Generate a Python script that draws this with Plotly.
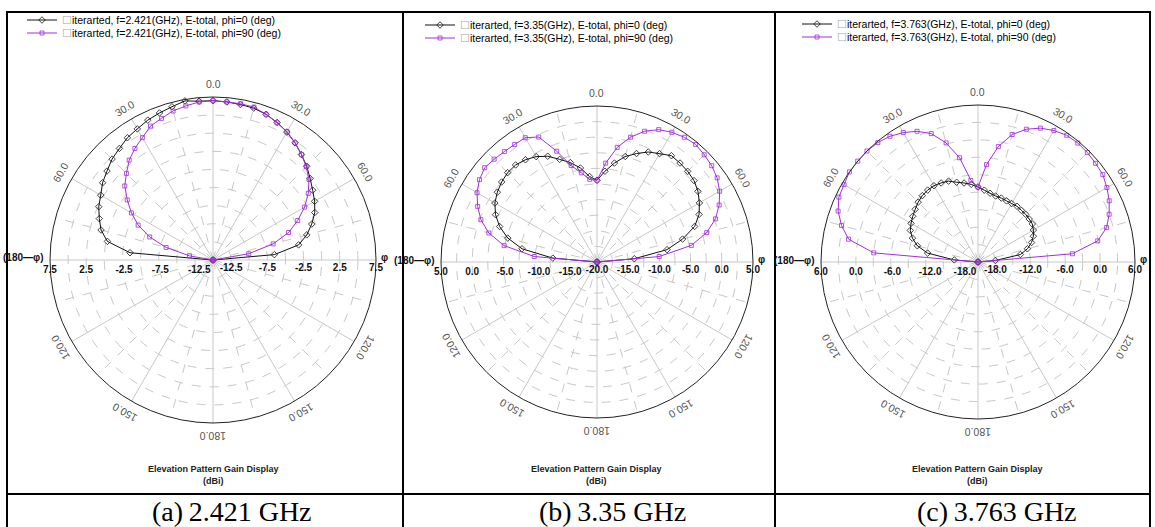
import math
import plotly.graph_objects as go

# ---------------- data ----------------
theta_deg = list(range(-90, 95, 5))

# (a) 2.421 GHz, radial range [-15, 7.5] dBi
a_phi0 = [-15, -3.5, -0.2, 1.0, 1.7, 2.4, 2.9, 3.6, 4.1, 4.7, 5.1, 5.6, 5.9, 6.3, 6.6, 6.9, 7.3, 7.0,
          7.0, 6.9, 6.8, 6.7, 6.4, 5.95, 5.4, 4.75, 4.0, 3.3, 2.5, 1.8, 1.2, 0.5, -0.5, -1.6, -3.0, -6.5, -15]
a_phi90 = [-15, -15, -11.7, -8.3, -5.7, -3.6, -2.0, -0.55, 0.9, 1.9, 3.0, 3.8, 4.5, 5.4, 5.8, 6.3, 6.6, 6.9,
           7.0, 6.9, 6.9, 6.85, 6.4, 5.9, 5.45, 4.75, 4.0, 3.2, 2.3, 1.05, -0.4, -2.1, -3.9, -6.4, -10.0, -15, -15]

# (b) 3.35 GHz, radial range [-20, 5] dBi
b_phi0 = [-20, -12.9, -7.8, -5.2, -3.4, -2.05, -1.1, -0.5, -0.05, 0.25, 0.3, 0.0, -0.5, -1.3, -2.5, -3.5, -4.7, -6.25,
          -6.9, -5.4, -3.9, -2.5, -1.5, -0.55, 0.05, 0.8, 0.7, 0.55, 0.3, -0.25, -1.05, -1.95, -3.35, -5.8, -8.6, -14.0, -20]
b_phi90 = [-20, -9.9, -4.9, -2.05, -0.2, 1.1, 2.2, 3.0, 3.5, 3.3, 3.1, 3.0, 3.0, 2.1, -1.1, -4.0, -5.5, -6.7,
           -6.9, -4.1, -1.35, 0.7, 2.3, 3.4, 4.0, 4.4, 4.6, 4.3, 4.0, 3.5, 2.7, 1.6, 0.2, -1.8, -4.65, -10.0, -20]

# (c) 3.763 GHz, radial range [-21, 6] dBi
c_phi0 = [-21, -16.9, -12.2, -10.2, -9.0, -8.15, -7.7, -7.3, -6.9, -6.45, -6.1, -5.9, -5.85, -6.0, -6.2, -6.8, -7.2, -7.6,
          -8.1, -8.6, -9.0, -9.25, -9.3, -9.4, -9.4, -9.3, -9.4, -9.4, -9.5, -9.6, -10.0, -10.5, -11.2, -12.2, -13.6, -18.0, -21]
c_phi90 = [-21, -3.0, 1.6, 3.3, 4.6, 5.4, 5.6, 6.0, 6.0, 6.0, 5.8, 5.4, 4.7, 3.8, 2.5, 0.2, -2.8, -6.9,
           -8.1, -4.2, -0.85, 1.7, 3.3, 4.4, 5.1, 5.6, 5.7, 5.6, 5.4, 5.2, 4.6, 3.9, 3.0, 1.9, -0.1, -4.7, -21]

freqs = ["2.421", "3.35", "3.763"]
captions = ["(a)\u20092.421 GHz", "(b)\u20093.35 GHz", "(c)\u20093.763 GHz"]
radial_ranges = [[-15, 7.5], [-20, 5], [-21, 6]]
ring_steps = [2.5, 2.5, 3.0]
label_steps = [5.0, 5.0, 6.0]
angle_label_vals = [0, 30, 60, 120, 150, 180, 210, 240, 300, 330]
angle_label_text = ["0.0", "30.0", "60.0", "120.0", "150.0", "180.0", "150.0", "120.0", "60.0", "30.0"]
phi_right = "\u03c6"
phi_left = "(180\u2014\u03c6)"

# ---------------- layout geometry (pixels) ----------------
W, H = 1155, 527
centers = [(213, 260), (597, 262), (978, 262)]
radii = [163, 156, 157]
left_label_shift = 7
legend_rows = [[(22, 20), (22, 33)], [(420, 25), (420, 38)], [(797, 24), (797, 37)]]
caption_x = [232, 612, 997]

def xp(px):
    return px / W

def yp(py):
    return 1 - py / H

FONT = "Liberation Sans, Arial"
BLACK = "#111111"
PURPLE = "#a030d8"
GRID = "#c8c8c8"

series = [(a_phi0, a_phi90), (b_phi0, b_phi90), (c_phi0, c_phi90)]

fig = go.Figure()
layout = dict(width=W, height=H, margin=dict(l=0, r=0, t=0, b=0),
              paper_bgcolor="white", plot_bgcolor="white", showlegend=True)
annotations = []
shapes = []
box = '<span style="color:#a8a8a8">\u2610</span>'

def pname(k):
    return "polar" if k == 1 else f"polar{k}"

for i in range(3):
    lo, hi = radial_ranges[i]
    step = ring_steps[i]
    lstep = label_steps[i]
    n = int(round((hi - lo) / step))
    ring_vals = [lo + step * k for k in range(1, n + 1)]
    ring_text = []
    for v in ring_vals:
        q = (hi - v) / lstep
        ring_text.append(f"<b>{v:.1f}</b>" if abs(q - round(q)) < 1e-6 else "")
    right_vals = ([lo] + ring_vals) if i == 1 else ring_vals
    right_text = ([f"<b>{lo:.1f}</b>"] + ring_text) if i == 1 else ring_text

    cx, cy = centers[i]
    R = radii[i]
    dom = dict(x=[xp(cx - R), xp(cx + R)], y=[yp(cy + R), yp(cy - R)])
    dom_left = dict(x=[xp(cx - R - left_label_shift), xp(cx + R - left_label_shift)],
                    y=[yp(cy + R), yp(cy - R)])
    under = pname(3 * i + 1)
    main = pname(3 * i + 2)
    lab = pname(3 * i + 3)

    # underlay polar: dashed spokes
    layout[under] = dict(
        domain=dom, bgcolor="white",
        angularaxis=dict(rotation=90, direction="clockwise", tickmode="array",
                         tickvals=list(range(15, 360, 30)), showticklabels=False, ticks="",
                         showline=False, showgrid=True, gridcolor=GRID, griddash="dash", gridwidth=1),
        radialaxis=dict(range=[lo, hi], showticklabels=False, showgrid=False, showline=False, ticks=""),
    )
    # main polar with the two cuts
    layout[main] = dict(
        domain=dom, bgcolor="rgba(0,0,0,0)",
        angularaxis=dict(rotation=90, direction="clockwise", tickmode="array",
                         tickvals=list(range(0, 360, 30)), showticklabels=False, ticks="",
                         showline=True, linecolor="#222222", linewidth=1,
                         showgrid=True, gridcolor=GRID, gridwidth=1),
        radialaxis=dict(range=[lo, hi], angle=0, side="clockwise", tickmode="array",
                        tickvals=right_vals, ticktext=right_text, showline=False, ticks="",
                        showgrid=True, gridcolor=GRID, griddash="dash", gridwidth=1,
                        tickfont=dict(family=FONT, size=10, color=BLACK)),
    )
    # label-only polar for the left-hand radial scale
    layout[lab] = dict(
        domain=dom_left, bgcolor="rgba(0,0,0,0)",
        angularaxis=dict(rotation=90, direction="clockwise", showticklabels=False, ticks="",
                         showline=False, showgrid=False),
        radialaxis=dict(range=[lo, hi], angle=180, side="counterclockwise", tickmode="array",
                        tickvals=ring_vals, ticktext=ring_text, tickangle=180,
                        showgrid=False, showline=False, ticks="",
                        tickfont=dict(family=FONT, size=10, color=BLACK)),
    )

    fig.add_trace(go.Scatterpolar(r=[], theta=[], subplot=under, showlegend=False,
                                  hoverinfo="skip", mode="lines"))
    p0, p90 = series[i]
    leg0 = "legend" if i == 0 else f"legend{2 * i + 1}"
    leg90 = f"legend{2 * i + 2}"
    fig.add_trace(go.Scatterpolar(
        r=p0, theta=theta_deg, subplot=main, mode="lines+markers", legend=leg0,
        name=f"{box}iterarted, f={freqs[i]}(GHz), E-total, phi=0 (deg)",
        line=dict(color=BLACK, width=1),
        marker=dict(symbol="diamond-open", size=5, color=BLACK, line=dict(width=0.8))))
    fig.add_trace(go.Scatterpolar(
        r=p90, theta=theta_deg, subplot=main, mode="lines+markers", legend=leg90,
        name=f"{box}iterarted, f={freqs[i]}(GHz), E-total, phi=90 (deg)",
        line=dict(color=PURPLE, width=1),
        marker=dict(symbol="square-open", size=4, color=PURPLE, line=dict(width=0.8))))
    fig.add_trace(go.Scatterpolar(r=[], theta=[], subplot=lab, showlegend=False,
                                  hoverinfo="skip", mode="lines"))

    for leg, (lx, ly) in zip([leg0, leg90], legend_rows[i]):
        layout[leg] = dict(x=xp(lx), y=yp(ly), xanchor="left", yanchor="middle",
                           bgcolor="rgba(0,0,0,0)", borderwidth=0, itemwidth=30,
                           font=dict(family=FONT, size=10.5, color="#000000"))

    # tangential angle labels around the pattern
    for ang, txt in zip(angle_label_vals, angle_label_text):
        rr = R + 13
        tx = cx + rr * math.sin(math.radians(ang))
        ty = cy - rr * math.cos(math.radians(ang))
        annotations.append(dict(x=xp(tx), y=yp(ty), xref="paper", yref="paper", showarrow=False,
                                xanchor="center", yanchor="middle", text=txt,
                                textangle=ang if ang <= 180 else ang - 360,
                                font=dict(family=FONT, size=10.5, color="#555555")))

    # phi labels at the horizontal ends of the pattern
    annotations.append(dict(x=xp(cx - R - 4), y=yp(cy - 2), xref="paper", yref="paper",
                            showarrow=False, xanchor="right", yanchor="middle",
                            text=f"<b>{phi_left}</b>", font=dict(family=FONT, size=10, color=BLACK)))
    annotations.append(dict(x=xp(cx + R + 3), y=yp(cy - 3), xref="paper", yref="paper",
                            showarrow=False, xanchor="left", yanchor="middle",
                            text=f"<b>{phi_right}</b>", font=dict(family=FONT, size=10, color=BLACK)))

    annotations.append(dict(x=xp(cx), y=yp(469), xref="paper", yref="paper", showarrow=False,
                            xanchor="center", yanchor="middle",
                            text="<b>Elevation Pattern Gain Display</b>",
                            font=dict(family=FONT, size=9, color="#222222")))
    annotations.append(dict(x=xp(cx), y=yp(481), xref="paper", yref="paper", showarrow=False,
                            xanchor="center", yanchor="middle",
                            text="<b>(dBi)</b>", font=dict(family=FONT, size=9, color="#222222")))
    annotations.append(dict(x=xp(caption_x[i]), y=yp(511), xref="paper", yref="paper", showarrow=False,
                            xanchor="center", yanchor="middle", text=captions[i],
                            font=dict(family="Liberation Serif, Times New Roman", size=28, color="black")))

def hline(y, x0, x1, w=2):
    shapes.append(dict(type="line", xref="paper", yref="paper", x0=xp(x0), x1=xp(x1),
                       y0=yp(y), y1=yp(y), line=dict(color="black", width=w)))

def vline(x, y0, y1, w=2):
    shapes.append(dict(type="line", xref="paper", yref="paper", x0=xp(x), x1=xp(x),
                       y0=yp(y0), y1=yp(y1), line=dict(color="black", width=w)))

hline(12, 6, 1151)
hline(494, 6, 1151)
vline(7, 11, 527)
vline(403, 11, 527)
vline(775, 11, 527)
vline(1150, 11, 527)

layout["annotations"] = annotations
layout["shapes"] = shapes
fig.update_layout(**layout)
fig.write_html("out.html", config={"displayModeBar": False},
               post_script="document.body.style.margin='0';document.body.style.padding='0';")
